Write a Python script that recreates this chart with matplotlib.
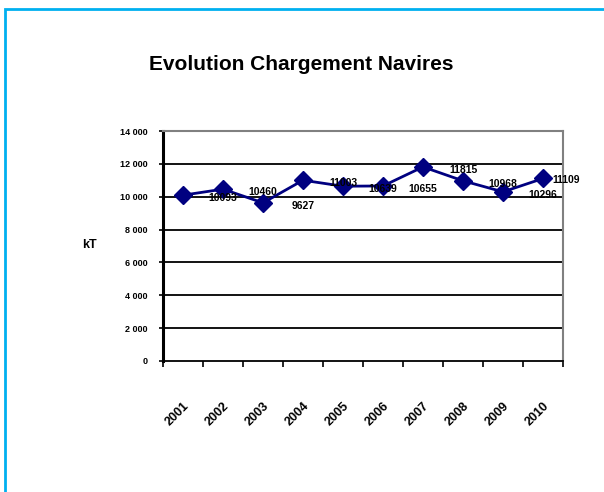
import matplotlib
matplotlib.use("Agg")
import matplotlib.pyplot as plt
from matplotlib.patches import Rectangle

plt.rcParams['font.family'] = ['Liberation Sans', 'DejaVu Sans']

years = ['2001', '2002', '2003', '2004', '2005', '2006', '2007', '2008', '2009', '2010']
values = [10093, 10460, 9627, 11003, 10639, 10655, 11815, 10968, 10296, 11109]
yticks = [0, 2000, 4000, 6000, 8000, 10000, 12000, 14000]
title = 'Evolution Chargement Navires'
ylabel = 'kT'

W, H = 604, 492
fig = plt.figure(figsize=(W / 100, H / 100), dpi=100)

# outer chart border (light blue), cut off at right/bottom
fig.patches.append(Rectangle((5 / W, -0.1), 1.2, 1 - 9 / H + 0.1, transform=fig.transFigure,
                             fill=False, edgecolor='#00b0f0', linewidth=2.0, zorder=0))

ax = fig.add_axes([163 / W, 1 - 361 / H, 400 / W, 230 / H])
x = list(range(len(years)))
ax.plot(x, values, color='#000080', linewidth=2.0, marker='D', markersize=9,
        markerfacecolor='#000080', markeredgecolor='#000080', zorder=5, clip_on=False)

ax.set_xlim(-0.5, len(years) - 0.5)
ax.set_ylim(0, 14000)
ax.set_yticks(yticks)
ax.set_yticklabels([f"{v:,}".replace(",", " ") for v in yticks], fontsize=6.5, fontweight='bold')
for v in yticks[1:-1]:
    ax.axhline(v, color='black', linewidth=1.3, zorder=1)

ax.set_xticks(x)
ax.set_xticklabels(years, rotation=45, ha='right', va='top', rotation_mode='anchor',
                   fontsize=9, fontweight='bold')
ax.tick_params(axis='x', which='major', length=0, pad=28)
ax.set_xticks([i - 0.5 for i in range(len(years) + 1)], minor=True)
ax.tick_params(axis='x', which='minor', length=4, width=1.2, direction='out')
ax.tick_params(axis='y', length=3, width=1.2, direction='out', pad=8)

for s in ['top', 'right']:
    ax.spines[s].set_color('#808080')
    ax.spines[s].set_linewidth(1.5)
ax.spines['left'].set_linewidth(2.2)
ax.spines['bottom'].set_linewidth(1.3)

# data labels (as placed in the reference)
for i, v in enumerate(values):
    if i < len(values) - 1:
        ax.annotate(str(v), xy=(i + 1, v), xytext=(0, -2), textcoords='offset points',
                    ha='center', va='center', fontsize=7.5, fontweight='bold', zorder=6)
    else:
        ax.annotate(str(v), xy=(i, v), xytext=(7, -1), textcoords='offset points',
                    ha='left', va='center', fontsize=7.5, fontweight='bold', zorder=6,
                    annotation_clip=False)

fig.text(82 / W, 1 - 245 / H, ylabel, fontsize=9, fontweight='bold', ha='left', va='center')
fig.text(301 / W, 1 - 65 / H, title, fontsize=15, fontweight='bold', ha='center', va='center')

fig.savefig('out.png', dpi=100)
